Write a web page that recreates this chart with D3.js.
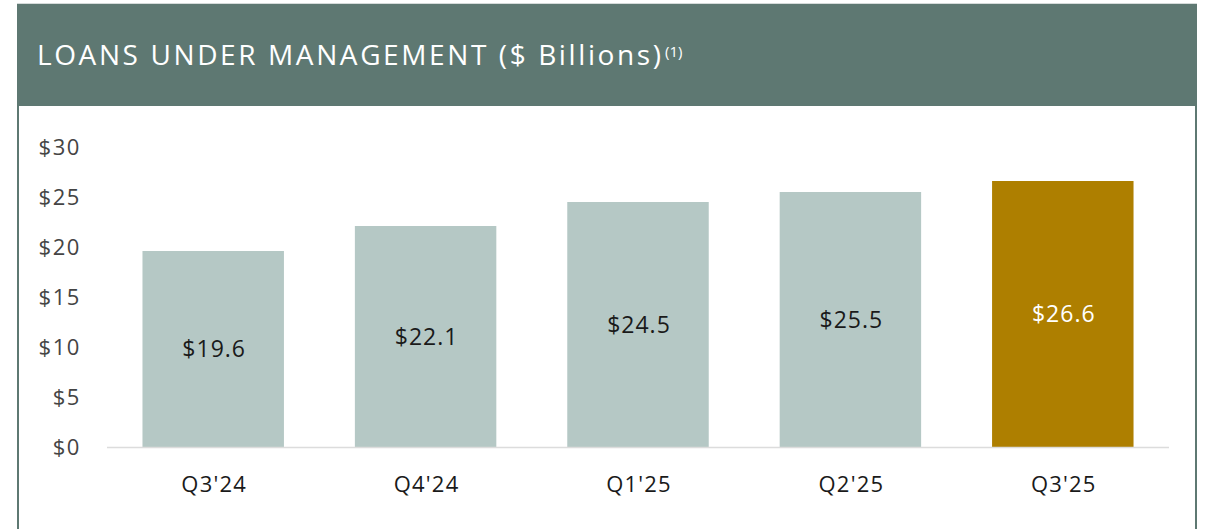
<!DOCTYPE html>
<html>
<head>
<meta charset="utf-8">
<script src="https://cdn.jsdelivr.net/npm/d3@7"></script>
<style>
  body { margin: 0; background: #fff; }
  svg { display: block; font-family: "Open Sans", Lato, sans-serif; }
</style>
</head>
<body>
<div id="chart"></div>
<script>
const quarters = ["Q3'24", "Q4'24", "Q1'25", "Q2'25", "Q3'25"];
const loans = [19.6, 22.1, 24.5, 25.5, 26.6];
const yTicks = [0, 5, 10, 15, 20, 25, 30];
const titleText = "LOANS UNDER MANAGEMENT ($ Billions)";
const titleNote = "(1)";

const W = 1207, H = 529;
const card = {L: 18, T: 4, R: 1196, header: 102};
const margin = {top: 147, left: 107, right: 38, bottom: 82};

const svg = d3.select("#chart")
  .append("svg")
  .attr("width", W)
  .attr("height", H);

// card outline + header band
svg.append("rect")
  .attr("x", card.L)
  .attr("y", card.T)
  .attr("width", card.R - card.L)
  .attr("height", H - card.T + 5)
  .style("fill", "#fff")
  .style("stroke", "#5e7872")
  .style("stroke-width", 2);

svg.append("line")
  .attr("x1", card.L - 1).attr("x2", card.R + 1)
  .attr("y1", card.T - 0.5).attr("y2", card.T - 0.5)
  .style("stroke", "#d5dbda");

svg.append("rect")
  .attr("x", card.L - 1)
  .attr("y", card.T)
  .attr("width", card.R - card.L + 2)
  .attr("height", card.header)
  .style("fill", "#5e7872");

svg.append("text")
  .attr("x", 37)
  .attr("y", 65)
  .attr("textLength", 624)
  .attr("lengthAdjust", "spacing")
  .style("fill", "#fff")
  .style("font-size", "28px")
  .text(titleText);
svg.append("text")
  .attr("x", 665)
  .attr("y", 57)
  .style("fill", "#fff")
  .style("font-size", "15px")
  .text(titleNote);

const x = d3.scaleBand()
  .domain(quarters)
  .range([margin.left, W - margin.right])
  .paddingInner(0.334)
  .paddingOuter(0.167);

const y = d3.scaleLinear()
  .domain([0, 30])
  .range([H - margin.bottom, margin.top]);

const g = svg.append("g");

// y labels
g.selectAll(".ytick")
  .data(yTicks)
  .join("text")
  .attr("class", "ytick")
  .attr("x", 81)
  .attr("y", d => y(d))
  .attr("dy", "0.35em")
  .attr("text-anchor", "end")
  .style("font-size", "22px")
  .style("letter-spacing", "1.6px")
  .style("fill", "#444")
  .text(d => "$" + d);

g.selectAll(".bar")
  .data(loans)
  .join("rect")
  .attr("class", "bar")
  .attr("x", (d, i) => x(quarters[i]))
  .attr("y", d => y(d))
  .attr("width", x.bandwidth())
  .attr("height", d => y(0) - y(d))
  .style("fill", (d, i) => i === loans.length - 1 ? "#ae7f00" : "#b5c8c5");

g.append("line")
  .attr("x1", margin.left)
  .attr("x2", W - margin.right)
  .attr("y1", y(0) + 0.5)
  .attr("y2", y(0) + 0.5)
  .style("stroke", "#dcdcdc")
  .style("stroke-width", 1.5);

g.selectAll(".val")
  .data(loans)
  .join("text")
  .attr("class", "val")
  .attr("x", (d, i) => x(quarters[i]) + x.bandwidth() / 2 + 1)
  .attr("y", d => (y(d) + y(0)) / 2)
  .attr("dy", "0.35em")
  .attr("text-anchor", "middle")
  .style("font-size", "23px")
  .style("letter-spacing", "1px")
  .style("fill", (d, i) => i === loans.length - 1 ? "#fff" : "#1a1a1a")
  .text(d => "$" + d.toFixed(1));

g.selectAll(".cat")
  .data(quarters)
  .join("text")
  .attr("class", "cat")
  .attr("x", d => x(d) + x.bandwidth() / 2 + 1)
  .attr("y", 492)
  .attr("text-anchor", "middle")
  .style("font-size", "22px")
  .style("letter-spacing", "1.2px")
  .style("fill", "#1a1a1a")
  .text(d => d);
</script>
</body>
</html>
